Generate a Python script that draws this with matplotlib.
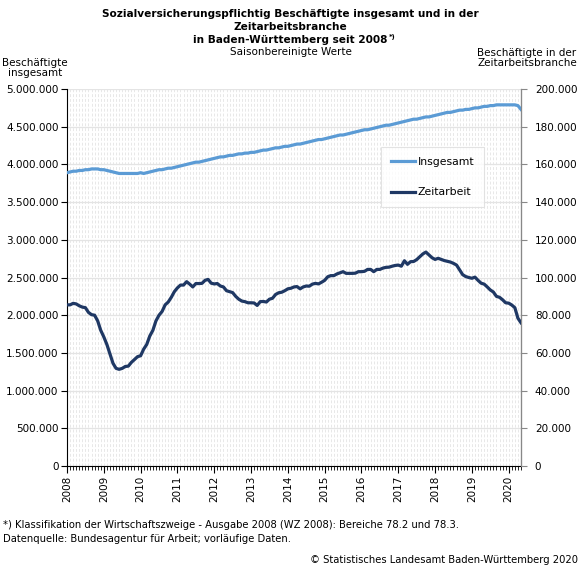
import numpy as np
import matplotlib.pyplot as plt
from matplotlib.ticker import FuncFormatter

# Saisonbereinigte Monatswerte Jan 2008 - Mai 2020
years = list(range(2008, 2021))

insgesamt_mio = [
    3.89, 3.90, 3.91, 3.91, 3.92, 3.92, 3.93, 3.93, 3.94, 3.94, 3.94, 3.93,  # 2008
    3.93, 3.92, 3.91, 3.90, 3.89, 3.88, 3.88, 3.88, 3.88, 3.88, 3.88, 3.88,  # 2009
    3.89, 3.88, 3.89, 3.90, 3.91, 3.92, 3.93, 3.93, 3.94, 3.95, 3.95, 3.96,  # 2010
    3.97, 3.98, 3.99, 4.00, 4.01, 4.02, 4.03, 4.03, 4.04, 4.05, 4.06, 4.07,  # 2011
    4.08, 4.09, 4.10, 4.10, 4.11, 4.12, 4.12, 4.13, 4.14, 4.14, 4.15, 4.15,  # 2012
    4.16, 4.16, 4.17, 4.18, 4.19, 4.19, 4.20, 4.21, 4.22, 4.22, 4.23, 4.24,  # 2013
    4.24, 4.25, 4.26, 4.27, 4.27, 4.28, 4.29, 4.30, 4.31, 4.32, 4.33, 4.33,  # 2014
    4.34, 4.35, 4.36, 4.37, 4.38, 4.39, 4.39, 4.40, 4.41, 4.42, 4.43, 4.44,  # 2015
    4.45, 4.46, 4.46, 4.47, 4.48, 4.49, 4.50, 4.51, 4.52, 4.52, 4.53, 4.54,  # 2016
    4.55, 4.56, 4.57, 4.58, 4.59, 4.60, 4.60, 4.61, 4.62, 4.63, 4.63, 4.64,  # 2017
    4.65, 4.66, 4.67, 4.68, 4.69, 4.69, 4.70, 4.71, 4.72, 4.72, 4.73, 4.73,  # 2018
    4.74, 4.75, 4.75, 4.76, 4.77, 4.77, 4.78, 4.78, 4.79, 4.79, 4.79, 4.79,  # 2019
    4.79, 4.79, 4.79, 4.78, 4.73,                                            # 2020
]

zeitarbeit_tsd = [
    85.5, 85.5, 86.3, 86.0, 85.0, 84.3, 84.0, 81.5, 80.3, 80.0, 77.0, 72.0,  # 2008
    68.5, 64.5, 59.5, 54.5, 51.8, 51.3, 51.8, 52.8, 53.0, 55.0, 56.5, 58.0,  # 2009
    58.5, 62.0, 64.5, 69.0, 72.0, 77.0, 80.0, 82.0, 85.5, 87.0, 89.5, 92.5,  # 2010
    94.5, 96.0, 96.0, 97.8, 96.5, 95.0, 96.8, 96.8, 96.9, 98.5, 99.0, 97.0,  # 2011
    96.6, 96.8, 95.5, 95.0, 93.0, 92.5, 92.0, 90.0, 88.5, 87.5, 87.2, 86.6,  # 2012
    86.6, 86.5, 85.2, 87.2, 87.3, 87.0, 88.5, 89.0, 91.0, 91.9, 92.2, 93.0,  # 2013
    94.0, 94.3, 95.0, 95.2, 94.0, 95.0, 95.5, 95.4, 96.5, 96.9, 96.6, 97.5,  # 2014
    98.5, 100.4, 101.0, 101.0, 101.9, 102.5, 103.1, 102.2, 102.2, 102.2, 102.3, 103.1,  # 2015
    103.1, 103.3, 104.3, 104.3, 103.1, 104.3, 104.3, 105.0, 105.4, 105.5, 106.0, 106.4,  # 2016
    106.6, 106.0, 108.9, 107.0, 108.4, 108.5, 109.5, 111.0, 112.5, 113.5, 112.0, 110.5,  # 2017
    109.6, 110.2, 109.6, 109.0, 108.6, 108.2, 107.5, 106.6, 104.0, 101.5, 100.5, 100.0,  # 2018
    99.6, 100.2, 98.5, 97.0, 96.5, 95.0, 93.4, 92.3, 90.0, 89.5, 88.2, 86.6,  # 2019
    86.4, 85.4, 84.0, 78.4, 76.0,                                            # 2020
]

insgesamt = np.array(insgesamt_mio) * 1e6
zeitarbeit = np.array(zeitarbeit_tsd) * 1e3
x = np.arange(len(insgesamt))

hell = '#5b9bd5'
dunkel = '#1f3864'


def punkt_format(v, pos):
    return f'{int(round(v)):,}'.replace(',', '.')


fig = plt.figure(figsize=(5.81, 5.67), dpi=100)
ax = fig.add_axes([0.1153, 0.1781, 0.7814, 0.6649])
ax2 = ax.twinx()

# Gitter
for m in x:
    ax.axvline(m, color='#e8e8e8', lw=0.7, ls=(0, (3, 2)), zorder=0)
ax.set_axisbelow(True)
ax.yaxis.grid(True, color='#e4e4e4', lw=0.9)

l1, = ax.plot(x, insgesamt, color=hell, lw=2.3, label='Insgesamt', zorder=3)
l2, = ax2.plot(x, zeitarbeit, color=dunkel, lw=2.3, label='Zeitarbeit', zorder=3)

ax.set_xlim(0, len(x) - 1)
ax.set_ylim(0, 5000000)
ax2.set_ylim(0, 200000)
ax.set_yticks(np.arange(0, 5000001, 500000))
ax2.set_yticks(np.arange(0, 200001, 20000))
ax.yaxis.set_major_formatter(FuncFormatter(punkt_format))
ax2.yaxis.set_major_formatter(FuncFormatter(punkt_format))

ax.set_xticks(np.arange(0, len(x), 12))
ax.set_xticklabels([str(j) for j in years], rotation=90, fontsize=7.5)
ax.set_xticks(x, minor=True)
ax.tick_params(axis='x', which='major', length=5, width=0.8, pad=2)
ax.tick_params(axis='x', which='minor', length=3, width=0.6)
ax.tick_params(axis='y', labelsize=7.5, length=4, width=0.8, pad=2)
ax2.tick_params(axis='y', labelsize=7.5, length=4, width=0.8, color='#888888', pad=6)

for a in (ax, ax2):
    a.spines['top'].set_visible(False)
ax.spines['left'].set_color('black')
ax.spines['bottom'].set_color('black')
ax2.spines['right'].set_color('#888888')
ax2.spines['left'].set_visible(False)
ax2.spines['bottom'].set_visible(False)

leg = fig.legend([l1, l2], ['Insgesamt', 'Zeitarbeit'], loc='upper left',
                 bbox_to_anchor=(381 / 581, 1 - 147 / 567), fontsize=7.8,
                 frameon=True, fancybox=False, edgecolor='#dddddd',
                 handlelength=2.2, handletextpad=0.3, labelspacing=1.9,
                 borderpad=0.9, borderaxespad=0)
leg.get_frame().set_linewidth(0.8)

# Texte
fig.text(0.5, 1 - 14 / 567, 'Sozialversicherungspflichtig Beschäftigte insgesamt und in der',
         ha='center', va='center', fontsize=7.6, fontweight='bold')
fig.text(0.5, 1 - 27 / 567, 'Zeitarbeitsbranche', ha='center', va='center',
         fontsize=7.6, fontweight='bold')
t3 = fig.text(0.5, 1 - 40 / 567, 'in Baden-Württemberg seit 2008', ha='center', va='center',
              fontsize=7.6, fontweight='bold')
fig.canvas.draw()
bb = t3.get_window_extent()
fig.text(bb.x1 / fig.bbox.width + 0.002, 1 - 37 / 567, '*)', ha='left', va='center',
         fontsize=5, fontweight='bold')
fig.text(0.5, 1 - 52 / 567, 'Saisonbereinigte Werte', ha='center', va='center', fontsize=7.5)
fig.text(35 / 581, 1 - 68 / 567, 'Beschäftigte\ninsgesamt', ha='center', va='center',
         fontsize=7.5, linespacing=1.1)
fig.text(527 / 581, 1 - 58 / 567, 'Beschäftigte in der\nZeitarbeitsbranche', ha='center',
         va='center', fontsize=7.5, linespacing=1.1)
fig.text(3 / 581, 1 - 525 / 567,
         '*) Klassifikation der Wirtschaftszweige - Ausgabe 2008 (WZ 2008): Bereiche 78.2 und 78.3.',
         ha='left', va='center', fontsize=7.2)
fig.text(3 / 581, 1 - 539 / 567, 'Datenquelle: Bundesagentur für Arbeit; vorläufige Daten.',
         ha='left', va='center', fontsize=7.2)
fig.text(578 / 581, 1 - 560 / 567, '© Statistisches Landesamt Baden-Württemberg 2020',
         ha='right', va='center', fontsize=7.2)

fig.savefig('out.png', dpi=100)
